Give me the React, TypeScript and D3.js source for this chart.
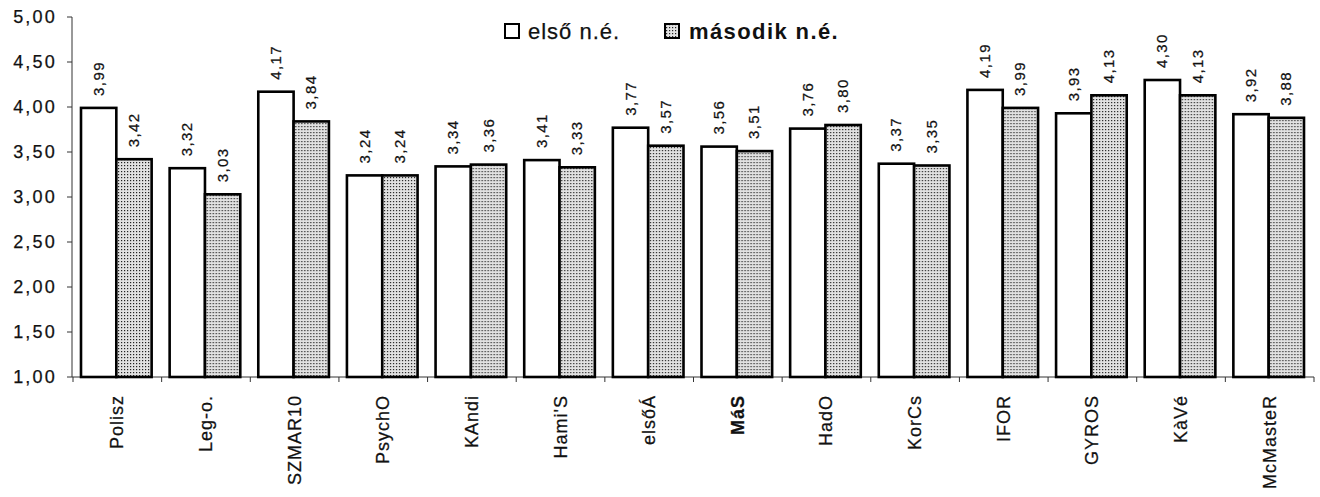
import React from "react";
import * as d3 from "d3";

const categories = ["Polisz", "Leg-o.", "SZMAR10", "PsychO", "KAndi", "Hami'S", "elsőÁ", "MáS", "HadO", "KorCs", "IFOR", "GYROS", "KàVé", "McMasteR"];
const series1 = [3.99, 3.32, 4.17, 3.24, 3.34, 3.41, 3.77, 3.56, 3.76, 3.37, 4.19, 3.93, 4.30, 3.92];
const series2 = [3.42, 3.03, 3.84, 3.24, 3.36, 3.33, 3.57, 3.51, 3.80, 3.35, 3.99, 4.13, 4.13, 3.88];
const seriesNames = ["első n.é.", "második n.é."];
const yTicks = [1, 1.5, 2, 2.5, 3, 3.5, 4, 4.5, 5];

const W = 1320, H = 497;
const left = 72, right = 1314, top = 17, bottom = 377;
const FONT = "'Liberation Sans', Arial, Helvetica, sans-serif";
const fmt = (v: number) => v.toFixed(2).replace(".", ",");

export default function App() {
  const x = d3.scaleBand<string>().domain(categories).range([left + 1, right]).padding(0);
  const inner = d3.scaleBand<number>().domain([0, 1]).range([8, x.bandwidth() - 10]).padding(0);
  const y = d3.scaleLinear().domain([1, 5]).range([bottom, top]);
  const data = [series1, series2];
  const heavy = { stroke: "#111", strokeWidth: 0.25 };

  return (
    <svg width={W} height={H} style={{ position: "absolute", left: 0, top: 0, background: "#fff" }}>
      <defs>
        <pattern id="dots" width="3" height="3" patternUnits="userSpaceOnUse">
          <rect width="3" height="3" fill="#e2e2e2" />
          <rect x="0" y="0" width="1.2" height="1.2" fill="#222" />
        </pattern>
      </defs>
      {/* y axis */}
      <line x1={left} x2={left} y1={top} y2={bottom} stroke="#333" strokeWidth={1} />
      {yTicks.map((t) => (
        <g key={t}>
          <line x1={left - 5} x2={left} y1={y(t)} y2={y(t)} stroke="#333" strokeWidth={1} />
          <text x={57} y={y(t)} dy="0.36em" textAnchor="end" fontFamily={FONT} fontSize={18} letterSpacing={2.2} fill="#111" {...heavy}>
            {fmt(t)}
          </text>
        </g>
      ))}
      {/* x axis */}
      <line x1={left} x2={right} y1={bottom} y2={bottom} stroke="#333" strokeWidth={1} />
      {categories.map((c) => (
        <line key={"t" + c} x1={x(c)!} x2={x(c)!} y1={bottom} y2={bottom + 5} stroke="#333" strokeWidth={1} />
      ))}
      <line x1={right} x2={right} y1={bottom} y2={bottom + 5} stroke="#333" strokeWidth={1} />
      {/* bars */}
      {categories.map((c, i) => (
        <g key={c} transform={`translate(${x(c)},0)`}>
          {data.map((s, k) => {
            const bx = inner(k)!;
            const bw = inner.bandwidth();
            const v = s[i];
            return (
              <g key={k}>
                <rect x={bx} y={y(v)} width={bw} height={bottom - y(v)} fill={k === 0 ? "#fff" : "url(#dots)"} stroke="#000" strokeWidth={2.6} />
                <text
                  transform={`translate(${bx + bw / 2 + 5},${y(v) - 12}) rotate(-90)`}
                  fontFamily={FONT}
                  fontSize={15}
                  letterSpacing={1.4}
                  fill="#111"
                  {...heavy}
                >
                  {fmt(v)}
                </text>
              </g>
            );
          })}
          <text
            transform={`translate(${x.bandwidth() / 2 + 6},${bottom + 18}) rotate(-90)`}
            textAnchor="end"
            fontFamily={FONT}
            fontSize={18}
            letterSpacing={1}
            fontWeight={c === "MáS" ? "bold" : "normal"}
            fill="#111"
            {...heavy}
          >
            {c}
          </text>
        </g>
      ))}
      {/* legend */}
      <rect x={505} y={24} width={14} height={14} fill="#fff" stroke="#000" strokeWidth={2} />
      <text x={528} y={39} fontFamily={FONT} fontSize={22} letterSpacing={1} fill="#111" {...heavy}>{seriesNames[0]}</text>
      <rect x={665} y={24} width={14} height={14} fill="url(#dots)" stroke="#000" strokeWidth={2} />
      <text x={689} y={39} fontFamily={FONT} fontSize={22} fontWeight="bold" letterSpacing={1.4} fill="#111">{seriesNames[1]}</text>
    </svg>
  );
}
